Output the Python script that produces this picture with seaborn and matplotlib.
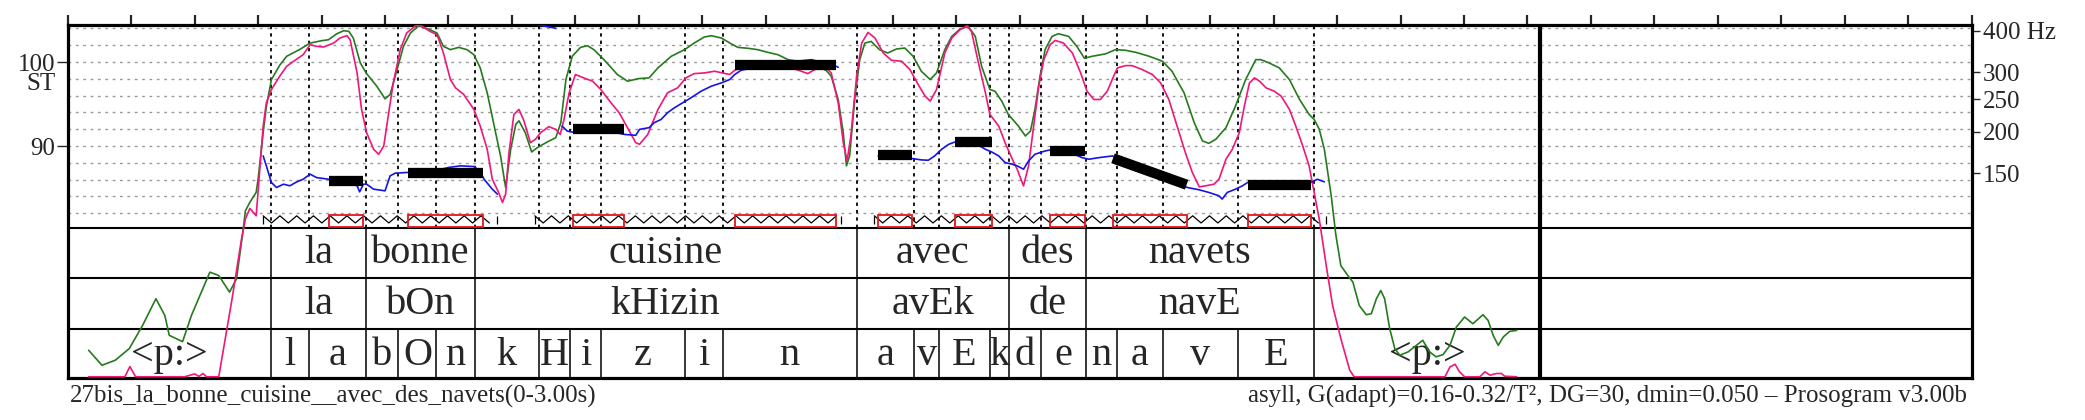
import numpy as np
import pandas as pd
import matplotlib
matplotlib.use("Agg")
import matplotlib.pyplot as plt
import matplotlib.transforms as mtransforms
from matplotlib.patches import Rectangle
import seaborn as sns

# ---------------- data (time in s, pitch / intensity in semitones) ----------------
green_t = [0.033, 0.054, 0.075, 0.097, 0.118, 0.139, 0.153, 0.160, 0.181, 0.195, 0.224, 0.238, 0.255, 0.266, 0.276,
           0.280, 0.287, 0.297, 0.300, 0.308, 0.313, 0.321, 0.334, 0.345, 0.366, 0.382, 0.400, 0.411, 0.424, 0.435,
           0.443, 0.450, 0.461, 0.471, 0.487, 0.500, 0.508, 0.519, 0.529, 0.540, 0.553, 0.571, 0.582, 0.592, 0.603,
           0.616, 0.629, 0.640, 0.650, 0.661, 0.671, 0.682, 0.690, 0.698, 0.706, 0.711, 0.721, 0.731, 0.740, 0.756,
           0.769, 0.777, 0.785, 0.795, 0.808, 0.819, 0.829, 0.845, 0.866, 0.882, 0.900, 0.916, 0.930, 0.951, 0.972,
           0.987, 1.003, 1.014, 1.030, 1.045, 1.056, 1.072, 1.087, 1.103, 1.119, 1.135, 1.156, 1.172, 1.195, 1.203,
           1.214, 1.222, 1.227, 1.232, 1.240, 1.248, 1.256, 1.266, 1.279, 1.292, 1.306, 1.319, 1.332, 1.345, 1.359,
           1.369, 1.382, 1.393, 1.406, 1.419, 1.430, 1.440, 1.453, 1.461, 1.472, 1.482, 1.498, 1.509, 1.517, 1.524,
           1.532, 1.540, 1.551, 1.561, 1.577, 1.590, 1.602, 1.614, 1.635, 1.651, 1.667, 1.683, 1.704, 1.725, 1.740,
           1.759, 1.775, 1.788, 1.798, 1.809, 1.825, 1.840, 1.856, 1.872, 1.880, 1.893, 1.909, 1.925, 1.941, 1.956,
           1.964, 1.972, 1.980, 1.991, 1.998, 2.006, 2.017, 2.025, 2.035, 2.046, 2.054, 2.062, 2.069, 2.075, 2.083,
           2.091, 2.099, 2.112, 2.125, 2.135, 2.146, 2.156, 2.167, 2.178, 2.188, 2.201, 2.214, 2.230, 2.238, 2.246,
           2.254, 2.262, 2.272, 2.283]
green_st = [65.71, 63.93, 64.53, 65.91, 68.67, 71.84, 69.86, 67.49, 66.74, 69.86, 75.00, 74.60, 72.63, 74.21, 79.77,
            82.30, 83.30, 84.50, 86.05, 91.60, 94.70, 97.90, 99.60, 100.67, 101.50, 102.24, 102.52, 102.64, 103.35, 103.71,
            103.63, 102.84, 99.88, 98.61, 97.11, 95.61, 96.13, 99.09, 101.85, 103.43, 104.30, 103.83, 103.43, 101.85, 101.46,
            101.73, 101.46, 100.86, 99.29, 96.32, 92.77, 88.82, 85.07, 89.61, 92.57, 93.00, 91.58, 89.29, 89.81, 90.50,
            90.99, 92.77, 97.90, 100.67, 101.73, 101.93, 101.46, 100.27, 98.50, 97.71, 98.02, 98.10, 99.29, 100.67, 101.46,
            102.24, 102.96, 103.12, 102.84, 102.17, 101.73, 101.62, 101.46, 101.14, 100.86, 100.27, 100.00, 99.70, 99.00, 98.30,
            95.53, 91.58, 87.64, 88.82, 95.53, 100.27, 102.24, 102.44, 101.46, 101.06, 101.54, 101.65, 100.67, 98.89, 97.90,
            98.69, 101.46, 103.04, 103.91, 104.22, 103.04, 99.48, 96.72, 96.52, 95.30, 93.76, 92.37, 91.19, 91.78, 94.35,
            98.30, 101.46, 103.04, 103.35, 103.04, 101.85, 100.43, 100.67, 100.95, 101.46, 101.38, 101.14, 100.67, 100.08, 98.89,
            96.32, 92.77, 90.60, 90.32, 90.80, 92.18, 94.75, 97.90, 100.27, 100.27, 99.88, 99.29, 97.90, 95.53, 93.76,
            93.16, 92.00, 89.61, 84.00, 79.50, 75.78, 74.60, 73.82, 71.04, 69.94, 70.06, 71.84, 72.82, 71.84, 68.28,
            65.91, 65.12, 65.52, 66.30, 66.90, 65.52, 64.93, 65.20, 66.30, 68.48, 69.67, 68.87, 69.94, 69.27, 67.49,
            66.30, 67.30, 67.96, 68.08]

magenta_t = [0.033, 0.090, 0.098, 0.107, 0.184, 0.200, 0.207, 0.213, 0.219, 0.238, 0.259, 0.274, 0.280, 0.287, 0.295,
             0.297, 0.308, 0.313, 0.321, 0.334, 0.345, 0.356, 0.371, 0.382, 0.392, 0.403, 0.419, 0.429, 0.440, 0.445,
             0.456, 0.463, 0.471, 0.482, 0.490, 0.498, 0.505, 0.513, 0.524, 0.534, 0.548, 0.556, 0.571, 0.582, 0.592,
             0.603, 0.611, 0.624, 0.640, 0.650, 0.661, 0.669, 0.679, 0.685, 0.690, 0.695, 0.703, 0.711, 0.719, 0.729,
             0.737, 0.745, 0.758, 0.769, 0.776, 0.782, 0.790, 0.800, 0.813, 0.827, 0.840, 0.856, 0.869, 0.882, 0.895,
             0.901, 0.914, 0.930, 0.945, 0.961, 0.974, 0.987, 1.003, 1.019, 1.032, 1.043, 1.051, 1.061, 1.100, 1.140,
             1.156, 1.166, 1.177, 1.193, 1.203, 1.214, 1.222, 1.228, 1.234, 1.243, 1.251, 1.261, 1.272, 1.285, 1.298,
             1.314, 1.327, 1.340, 1.351, 1.359, 1.369, 1.382, 1.393, 1.406, 1.417, 1.424, 1.435, 1.446, 1.453, 1.467,
             1.477, 1.488, 1.496, 1.506, 1.514, 1.522, 1.530, 1.538, 1.548, 1.556, 1.569, 1.583, 1.596, 1.606, 1.617,
             1.627, 1.638, 1.648, 1.654, 1.667, 1.677, 1.693, 1.709, 1.722, 1.735, 1.748, 1.761, 1.772, 1.783, 1.793,
             1.806, 1.814, 1.825, 1.835, 1.846, 1.854, 1.862, 1.870, 1.878, 1.888, 1.901, 1.912, 1.925, 1.935, 1.946,
             1.956, 1.964, 1.972, 1.983, 1.993, 2.006, 2.020, 2.027, 2.170, 2.178, 2.186, 2.193, 2.201, 2.225, 2.233,
             2.241, 2.251, 2.259, 2.264, 2.283]
magenta_st = [62.56, 62.56, 63.78, 62.56, 62.56, 62.90, 62.60, 62.95, 62.56, 62.56, 71.84, 79.00, 81.32, 82.58, 81.90,
              81.71, 92.37, 95.14, 96.72, 98.30, 99.48, 100.08, 100.86, 102.05, 101.85, 101.77, 102.24, 102.84, 103.12, 102.64,
              98.69, 94.35, 91.58, 89.61, 89.02, 90.01, 93.56, 97.51, 101.46, 103.43, 104.30, 104.35, 103.63, 103.24, 101.06,
              97.90, 96.92, 96.13, 94.35, 92.37, 89.61, 86.05, 84.48, 83.29, 84.28, 89.00, 93.75, 94.35, 92.97, 90.40,
              90.80, 91.58, 92.30, 91.98, 91.38, 93.16, 96.32, 98.50, 98.10, 97.71, 96.72, 95.14, 93.95, 92.18, 90.40,
              90.20, 91.38, 94.35, 96.32, 96.92, 98.10, 98.61, 98.69, 98.89, 98.69, 98.50, 99.01, 99.29, 99.40, 99.30,
              98.89, 98.61, 99.09, 99.48, 98.69, 95.14, 90.40, 88.23, 91.19, 98.30, 102.24, 103.51, 102.84, 101.06, 100.19,
              100.08, 99.09, 97.31, 95.93, 95.34, 96.72, 101.06, 102.84, 103.83, 104.30, 103.63, 99.88, 96.32, 93.76, 92.37,
              90.40, 88.50, 87.24, 85.27, 87.64, 92.37, 97.11, 100.27, 102.05, 102.56, 102.24, 101.06, 98.69, 96.52, 95.53,
              95.53, 96.52, 98.30, 99.29, 99.56, 99.56, 99.09, 98.50, 97.51, 95.53, 92.37, 89.22, 86.85, 85.14, 85.27,
              85.46, 86.05, 88.43, 89.61, 91.58, 94.75, 97.51, 98.10, 97.71, 96.92, 96.52, 95.93, 94.35, 92.37, 90.01,
              87.64, 84.48, 81.30, 75.78, 71.04, 67.10, 63.34, 62.56, 62.56, 63.74, 64.05, 63.15, 62.56, 62.56, 63.15,
              62.75, 62.95, 62.95, 62.63, 62.56]

# F0 contour, in separate voiced pieces (seg id)
f0_seg = [1] * 29 + [2] * 3 + [3] * 26 + [4] * 40
f0_t = [0.308, 0.313, 0.321, 0.329, 0.340, 0.350, 0.361, 0.371, 0.382, 0.392, 0.411, 0.435, 0.456, 0.460, 0.466,
        0.471, 0.482, 0.500, 0.508, 0.516, 0.534, 0.576, 0.600, 0.619, 0.640, 0.650, 0.656, 0.669, 0.677,
        0.740, 0.755, 0.769,
        0.779, 0.787, 0.795, 0.840, 0.877, 0.895, 0.901, 0.916, 0.924, 0.935, 0.945, 0.956, 0.969, 0.982, 0.998,
        1.014, 1.030, 1.043, 1.051, 1.061, 1.100, 1.140, 1.172, 1.195, 1.211, 1.214,
        1.277, 1.300, 1.332, 1.345, 1.356, 1.366, 1.377, 1.388, 1.398, 1.430, 1.446, 1.456, 1.467, 1.477, 1.488,
        1.496, 1.506, 1.514, 1.524, 1.540, 1.548, 1.575, 1.598, 1.609, 1.625, 1.646, 1.700, 1.764, 1.783, 1.798,
        1.814, 1.819, 1.827, 1.840, 1.851, 1.859, 1.900, 1.961, 1.969, 1.980]
f0_st = [88.82, 87.64, 85.66, 85.07, 85.46, 85.27, 85.74, 86.05, 86.65, 86.25, 86.05, 85.86, 85.27, 84.55, 85.46,
         85.46, 84.87, 84.67, 86.45, 86.77, 86.85, 87.00, 87.45, 87.64, 87.56, 87.00, 86.05, 84.87, 84.28,
         104.45, 104.20, 104.00,
         92.37, 91.78, 91.66, 92.00, 91.38, 91.27, 91.98, 92.18, 92.77, 93.16, 93.95, 94.55, 95.14, 95.73, 96.52,
         97.11, 97.51, 97.90, 98.50, 99.01, 99.60, 100.00, 100.27, 99.80, 99.48, 99.36,
         88.82, 88.70, 88.50, 88.35, 88.31, 88.82, 89.61, 90.20, 90.48, 90.30, 89.61, 89.29, 88.82, 88.03, 87.84,
         87.64, 87.24, 88.23, 89.02, 89.41, 89.53, 89.40, 88.62, 88.43, 88.62, 88.82, 87.00, 85.07, 84.79, 84.48,
         84.08, 83.69, 84.48, 84.87, 85.27, 85.66, 85.40, 85.74, 86.05, 85.74]

# syllable nuclei and stylised pitch (start / end value)
nuc_start = [0.411, 0.536, 0.796, 1.052, 1.277, 1.398, 1.548, 1.647, 1.859]
nuc_end = [0.465, 0.655, 0.876, 1.211, 1.331, 1.457, 1.603, 1.763, 1.959]
plateau_start_st = [85.86, 86.81, 92.08, 99.64, 88.92, 90.50, 89.37, 88.54, 85.37]
plateau_end_st = [85.86, 86.81, 92.08, 99.64, 88.92, 90.50, 89.37, 85.40, 85.37]

# voiced stretches (zigzag band)
voiced_start = [0.308, 0.736, 1.271]
voiced_end = [0.677, 1.219, 1.982]

# tiers
word_bounds = [0.0, 0.321, 0.470, 0.641, 1.243, 1.483, 1.604, 1.964, 2.320]
word_labels = ["", "la", "bonne", "cuisine", "avec", "des", "navets", ""]
syll_labels = ["", "la", "bOn", "kHizin", "avEk", "de", "navE", ""]
phone_bounds = [0.0, 0.321, 0.380, 0.470, 0.521, 0.581, 0.641, 0.742, 0.791, 0.841, 0.972, 1.032, 1.243,
                1.334, 1.373, 1.453, 1.483, 1.533, 1.604, 1.653, 1.725, 1.844, 1.964, 2.320]
phone_labels = ["<p:>", "l", "a", "b", "O", "n", "k", "H", "i", "z", "i", "n", "a", "v", "E", "k", "d", "e",
                "n", "a", "v", "E", "<p:>"]
signal_end = 2.320

st_ticks = [90, 100]
st_tick_labels = ["90", "100\nST"]
hz_ticks = [150, 200, 250, 300, 400]
hz_labels = ["150", "200", "250", "300", "400 Hz"]

title_left = "27bis_la_bonne_cuisine__avec_des_navets(0-3.00s)"
title_right = "asyll, G(adapt)=0.16-0.32/T\u00b2, DG=30, dmin=0.050 \u2013 Prosogram v3.00b"

# ---------------- style ----------------
sns.set_style("white")
plt.rcParams["font.family"] = ["Liberation Serif", "DejaVu Serif"]
plt.rcParams["lines.scale_dashes"] = False

W, H = 2085, 420
fig = plt.figure(figsize=(W / 100, H / 100), dpi=100)
L, R, T, B = 67.7, 1971.7, 25.0, 378.3
ax = fig.add_axes([L / W, 1 - B / H, (R - L) / W, (B - T) / H])

ST_MIN, ST_MAX = 62.38, 104.39
ax.set_xlim(0.0, 3.0)
ax.set_ylim(ST_MIN, ST_MAX)

plot_bottom = 80.3
tier_edges = [80.3, 74.3, 68.3, ST_MIN]

# grid
for st in np.arange(82, 105, 2):
    ax.axhline(st, color="#9a9a9a", lw=1.0, dashes=(2.0, 3.3), zorder=1)

# phone boundaries (dotted) in the pitch area
ax.vlines(phone_bounds[1:-1], plot_bottom, ST_MAX, colors="black", lw=1.3,
          linestyles=[(0, (2.4, 2.9))], zorder=2)

# tier lines
for y in tier_edges[:-1]:
    ax.axhline(y, color="black", lw=1.5, zorder=2)
ax.vlines(word_bounds[1:-1], tier_edges[2], tier_edges[0], colors="black", lw=1.1, zorder=2)
ax.vlines(phone_bounds[1:-1], ST_MIN, tier_edges[2], colors="black", lw=1.1, zorder=2)
ax.axvline(signal_end, color="black", lw=3.0, zorder=6)

# tier texts
def tier_text(bounds, labels, base):
    for a, b, lab in zip(bounds[:-1], bounds[1:], labels):
        if lab:
            ax.text((a + b) / 2, base, lab, ha="center", va="baseline", fontsize=29, zorder=3)

tier_text(word_bounds, word_labels, tier_edges[1] + 1.75)
tier_text(word_bounds, syll_labels, tier_edges[2] + 1.78)
tier_text(phone_bounds, phone_labels, ST_MIN + 1.6)

# curves
sns.lineplot(x=green_t, y=green_st, sort=False, estimator=None, color="#267a1e", lw=1.2, ax=ax, zorder=4)
sns.lineplot(x=magenta_t, y=magenta_st, sort=False, estimator=None, color="#f0167a", lw=1.2, ax=ax, zorder=4)
df_f0 = pd.DataFrame({"t": f0_t, "st": f0_st, "seg": f0_seg})
sns.lineplot(data=df_f0, x="t", y="st", units="seg", estimator=None, sort=False,
             color="#1414e6", lw=1.2, ax=ax, zorder=4)

# stylisation plateaus
for s, e, v0, v1 in zip(nuc_start, nuc_end, plateau_start_st, plateau_end_st):
    ax.plot([s, e], [v0, v1], color="black", lw=7.4, solid_capstyle="butt", zorder=5)

# voicing zigzag
zz_lo, zz_hi = 80.85, 81.70
for s, e in zip(voiced_start, voiced_end):
    xs = np.arange(s, e, 0.0132)
    ys = np.where(np.arange(len(xs)) % 2 == 0, zz_hi, zz_lo)
    ax.plot(xs, ys, color="black", lw=0.9, zorder=5)
    ax.vlines([s, e], zz_lo - 0.1, zz_hi, colors="black", lw=0.9, zorder=5)

# nuclei rectangles
for s, e in zip(nuc_start, nuc_end):
    ax.add_patch(Rectangle((s, 80.42), e - s, 1.40, fill=False, edgecolor="#e3141c", lw=1.3, zorder=6))

# axes / ticks
for sp in ax.spines.values():
    sp.set_visible(True)
    sp.set_color("black")
    sp.set_linewidth(2.3)
ax.xaxis.tick_top()
ax.set_xticks(np.round(np.arange(0, 3.001, 0.1), 2))
ax.set_xticklabels([])
ax.tick_params(axis="x", which="major", direction="out", length=7, width=1.6,
               top=True, bottom=False, labeltop=False, labelbottom=False)
ax.set_yticks(st_ticks)
ax.set_yticklabels(st_tick_labels)
ax.tick_params(axis="y", which="major", direction="out", length=8, width=1.0, pad=1,
               left=True, right=False, labelsize=18)
for lab in ax.get_yticklabels():
    if "\n" in lab.get_text():
        lab.set_verticalalignment("top")
        lab.set_linespacing(0.87)
        lab.set_multialignment("right")
        lab.set_transform(lab.get_transform() + mtransforms.ScaledTranslation(0, 6 / 72, fig.dpi_scale_trans))
ax.set_xlabel("")
ax.set_ylabel("")

secax = ax.secondary_yaxis("right", functions=(lambda st: 2.0 ** (np.asarray(st) / 12.0),
                                                lambda hz: 12.0 * np.log2(np.clip(np.asarray(hz, dtype=float), 1e-6, None))))
secax.set_yticks(hz_ticks)
secax.set_yticklabels(hz_labels)
secax.tick_params(axis="y", which="major", direction="out", length=6, width=1.0, pad=2, labelsize=18, right=True)
secax.tick_params(axis="y", which="minor", length=0)
secax.spines["right"].set_visible(False)

fig.text(70 / W, 1 - 403 / H, title_left, ha="left", va="baseline", fontsize=18)
fig.text(1967 / W, 1 - 403 / H, title_right, ha="right", va="baseline", fontsize=18)

fig.savefig("out.png", dpi=100)
